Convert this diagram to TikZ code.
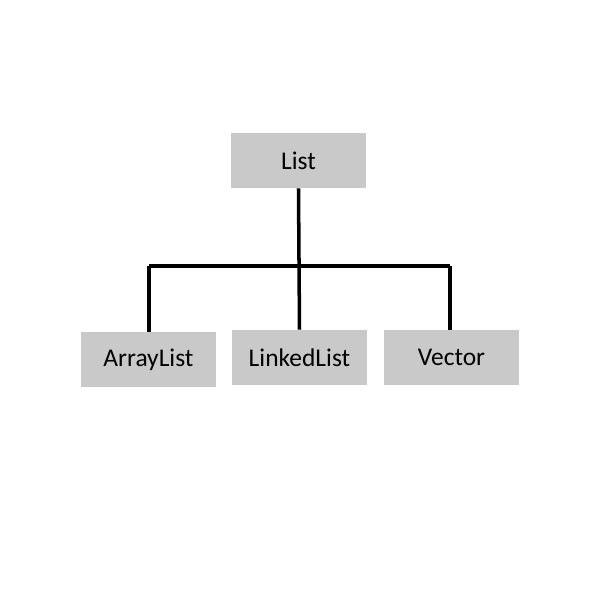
\documentclass[tikz,border=0pt]{standalone}
\usepackage{fontspec}
\setmainfont{Carlito}
\begin{document}
\begin{tikzpicture}[x=0.02cm, y=-0.02cm]
        \tikzset{
            classbox/.style={
                fill=black!21,
                minimum width=2.7cm,
                minimum height=1.1cm,
                inner sep=0pt,
                font=\fontsize{14.5}{16}\selectfont
            },
            branch/.style={draw=black, line width=2pt}
        }

        \useasboundingbox (0,0) rectangle (600,600);

        \node[classbox] (list) at (298.5,160.5) {List};
        \node[classbox] (array) at (148.5,359.5) {ArrayList};
        \node[classbox] (linked) at (299.5,357.5) {LinkedList};
        \node[classbox] (vector) at (451.5,357.5) {Vector};

        \coordinate (barL) at (149,266);
        \coordinate (barR) at (450,266);

        \draw[branch] (list.south) -- (linked.north);
        \draw[branch] (barL) -- (barR);
        \draw[branch] (barL) -- (barL |- array.north);
        \draw[branch] (barR) -- (barR |- vector.north);
    \end{tikzpicture}
\end{document}
